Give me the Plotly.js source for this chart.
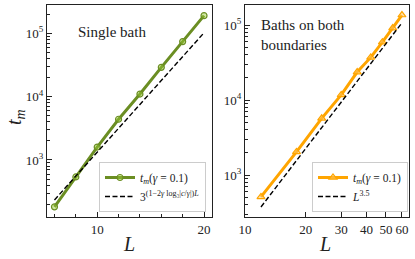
<!DOCTYPE html>
<html>
<head>
<meta charset="utf-8">
<script src="https://cdn.plot.ly/plotly-3.0.1.min.js"></script>
<style>html,body{margin:0;padding:0;background:#fff;}#plot{width:415px;height:259px;}</style>
</head>
<body>
<div id="plot"></div>
<script>
// Left panel: single bath
const L_single = [6, 8, 10, 12, 14, 16, 18, 20];
const tm_single = [182, 540, 1600, 4400, 11000, 29000, 74000, 190000];
const L_single_fit = [6, 20];
const fit_single = [234, 102000];

// Right panel: baths on both boundaries
const L_both = [12, 18, 24, 30, 36, 42, 48, 54, 60];
const tm_both = [510, 2030, 5700, 11700, 23600, 37000, 59000, 91000, 136000];
const L_both_fit = [12, 60];
const fit_both = [375, 107000];

const yTickVals = [1000, 10000, 100000];
const yTickText = ['10<sup>3</sup>', '10<sup>4</sup>', '10<sup>5</sup>'];
const xTickValsRight = [10, 20, 30, 40, 50, 60];
const xTickTextRight = ['10', '20', '30', '40', '50', '60'];

const FONT = 'Liberation Serif, DejaVu Serif, serif';
const green = '#6B8E23';
const orange = '#FFA500';

const traces = [
  {x: L_single, y: tm_single, xaxis: 'x', yaxis: 'y', mode: 'lines+markers', legend: 'legend',
   name: '<i>t</i><sub><i>m</i></sub>(<i>γ</i> = 0.1)',
   line: {color: green, width: 3},
   marker: {symbol: 'circle', size: 6, color: 'rgba(154,205,50,0.45)', line: {color: green, width: 1.2}}},
  {x: L_single_fit, y: fit_single, xaxis: 'x', yaxis: 'y', mode: 'lines', legend: 'legend',
   name: '3<sup>(1−2<i>γ</i> log₃|<i>c</i>/<i>γ</i>|)<i>L</i></sup>',
   line: {color: '#000', width: 1.4, dash: '5px,2.5px'}},
  {x: L_both, y: tm_both, xaxis: 'x2', yaxis: 'y2', mode: 'lines+markers', legend: 'legend2',
   name: '<i>t</i><sub><i>m</i></sub>(<i>γ</i> = 0.1)',
   line: {color: orange, width: 3},
   marker: {symbol: 'triangle-up', size: 7, color: 'rgba(255,200,100,0.5)', line: {color: orange, width: 1.2}}},
  {x: L_both_fit, y: fit_both, xaxis: 'x2', yaxis: 'y2', mode: 'lines', legend: 'legend2',
   name: '<i>L</i><sup>3.5</sup>',
   line: {color: '#000', width: 1.4, dash: '5px,2.5px'}}
];

const axisCommon = {
  showgrid: false, zeroline: false, showline: true, mirror: true,
  linecolor: '#222', linewidth: 1, ticks: 'inside', tickcolor: '#222',
  tickfont: {family: FONT, size: 13, color: '#222'}
};

const ydom = [1 - 217/259, 1 - 5/259];

const layout = {
  width: 415, height: 259,
  margin: {l: 0, r: 0, t: 0, b: 0},
  paper_bgcolor: '#fff', plot_bgcolor: '#fff',
  font: {family: FONT, color: '#222'},
  showlegend: true,
  xaxis: Object.assign({}, axisCommon, {
    domain: [47/415, 211.5/415], type: 'linear', range: [5.3, 20.7],
    tick0: 0, dtick: 10, ticklen: 5,
    minor: {ticks: 'inside', dtick: 2, ticklen: 3, tickcolor: '#222', showgrid: false}
  }),
  yaxis: Object.assign({}, axisCommon, {
    domain: ydom, type: 'log', range: [2.10, 5.447],
    tickvals: yTickVals, ticktext: yTickText, ticklen: 5,
    minor: {ticks: 'inside', dtick: 'D1', ticklen: 3, tickcolor: '#222', showgrid: false}
  }),
  xaxis2: Object.assign({}, axisCommon, {
    domain: [245/415, 409/415], anchor: 'y2', type: 'log', range: [1, 1.8131],
    tickvals: xTickValsRight, ticktext: xTickTextRight, ticklen: 5
  }),
  yaxis2: Object.assign({}, axisCommon, {
    domain: ydom, anchor: 'x2', type: 'log', range: [2.44, 5.267],
    tickvals: yTickVals, ticktext: yTickText, ticklen: 5,
    minor: {ticks: 'inside', dtick: 'D1', ticklen: 3, tickcolor: '#222', showgrid: false}
  }),
  legend: {
    x: 206/415, y: 1 - 212/259, xanchor: 'right', yanchor: 'bottom',
    bgcolor: 'rgba(255,255,255,0.9)', bordercolor: '#cccccc', borderwidth: 1,
    font: {family: FONT, size: 11.5, color: '#222'}, itemwidth: 30, tracegroupgap: 0
  },
  legend2: {
    x: 408/415, y: 1 - 212/259, xanchor: 'right', yanchor: 'bottom',
    bgcolor: 'rgba(255,255,255,0.9)', bordercolor: '#cccccc', borderwidth: 1,
    font: {family: FONT, size: 11.5, color: '#222'}, itemwidth: 30, tracegroupgap: 0
  },
  annotations: [
    {text: 'Single bath', xref: 'paper', yref: 'paper', x: 76/415, y: 1 - 32/259,
     xanchor: 'left', yanchor: 'middle', showarrow: false, font: {family: FONT, size: 15, color: '#222'}},
    {text: 'Baths on both<br>boundaries', xref: 'paper', yref: 'paper', x: 259/415, y: 1 - 35/259,
     xanchor: 'left', yanchor: 'middle', align: 'left', showarrow: false, font: {family: FONT, size: 15, color: '#222'}},
    {text: '<i>t</i><sub><i>m</i></sub>', xref: 'paper', yref: 'paper', x: 15/415, y: 1 - 117/259,
     xanchor: 'center', yanchor: 'middle', textangle: -90, showarrow: false, font: {family: FONT, size: 20, color: '#222'}},
    {text: '<i>L</i>', xref: 'paper', yref: 'paper', x: 129/415, y: 1 - 244/259,
     xanchor: 'center', yanchor: 'middle', showarrow: false, font: {family: FONT, size: 20, color: '#222'}},
    {text: '<i>L</i>', xref: 'paper', yref: 'paper', x: 325/415, y: 1 - 244/259,
     xanchor: 'center', yanchor: 'middle', showarrow: false, font: {family: FONT, size: 20, color: '#222'}}
  ]
};

Plotly.newPlot('plot', traces, layout, {staticPlot: true, displayModeBar: false});
</script>
</body>
</html>
